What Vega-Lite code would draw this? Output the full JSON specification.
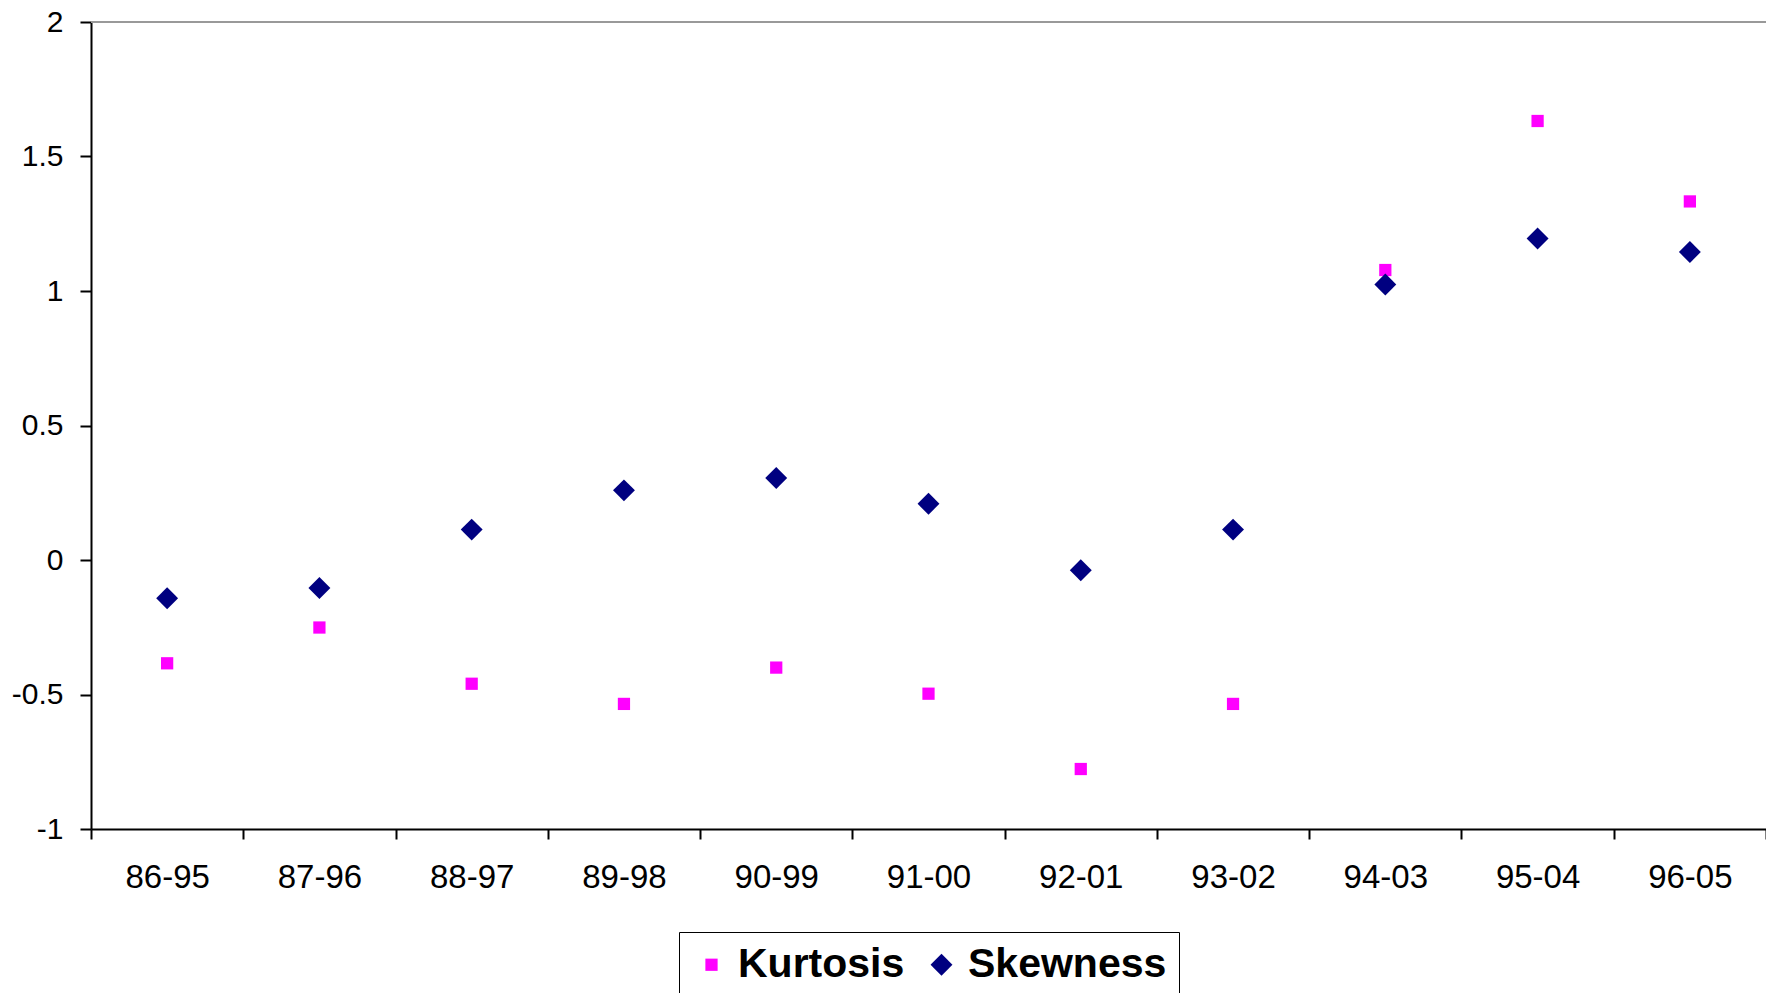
{
  "$schema": "https://vega.github.io/schema/vega-lite/v6.json",
  "width": 1675,
  "height": 807,
  "autosize": {"type": "none"},
  "padding": {"left": 91, "top": 22, "right": 0, "bottom": 164},
  "background": "white",
  "config": {
    "view": {"stroke": null},
    "font": "Liberation Sans"
  },
  "data": {
    "values": [
      {"period": "86-95", "series": "Kurtosis", "value": -0.384},
      {"period": "87-96", "series": "Kurtosis", "value": -0.251},
      {"period": "88-97", "series": "Kurtosis", "value": -0.46},
      {"period": "89-98", "series": "Kurtosis", "value": -0.535},
      {"period": "90-99", "series": "Kurtosis", "value": -0.4},
      {"period": "91-00", "series": "Kurtosis", "value": -0.497},
      {"period": "92-01", "series": "Kurtosis", "value": -0.777},
      {"period": "93-02", "series": "Kurtosis", "value": -0.535},
      {"period": "94-03", "series": "Kurtosis", "value": 1.078},
      {"period": "95-04", "series": "Kurtosis", "value": 1.632},
      {"period": "96-05", "series": "Kurtosis", "value": 1.333},
      {"period": "86-95", "series": "Skewness", "value": -0.142},
      {"period": "87-96", "series": "Skewness", "value": -0.104},
      {"period": "88-97", "series": "Skewness", "value": 0.113},
      {"period": "89-98", "series": "Skewness", "value": 0.259},
      {"period": "90-99", "series": "Skewness", "value": 0.305},
      {"period": "91-00", "series": "Skewness", "value": 0.209},
      {"period": "92-01", "series": "Skewness", "value": -0.038},
      {"period": "93-02", "series": "Skewness", "value": 0.113},
      {"period": "94-03", "series": "Skewness", "value": 1.024},
      {"period": "95-04", "series": "Skewness", "value": 1.195},
      {"period": "96-05", "series": "Skewness", "value": 1.145}
    ]
  },
  "layer": [
    {
      "mark": {"type": "rule", "color": "#999999", "strokeWidth": 2},
      "encoding": {"y": {"datum": 2, "type": "quantitative"}}
    },
    {
      "mark": {"type": "point", "filled": true, "opacity": 1},
      "encoding": {
        "x": {
          "field": "period",
          "type": "nominal",
          "sort": null,
          "scale": {"paddingInner": 0, "paddingOuter": 0},
          "axis": {
            "title": null,
            "labelAngle": 0,
            "labelFontSize": 33,
            "labelColor": "black",
            "labelPadding": 22,
            "tickBand": "extent",
            "tickSize": 10,
            "tickWidth": 2,
            "tickColor": "black",
            "domainColor": "black",
            "domainWidth": 2
          }
        },
        "y": {
          "field": "value",
          "type": "quantitative",
          "scale": {"domain": [-1, 2], "nice": false, "zero": false},
          "axis": {
            "title": null,
            "values": [-1, -0.5, 0, 0.5, 1, 1.5, 2],
            "labelExpr": "datum.value + ''",
            "labelFontSize": 30,
            "labelColor": "black",
            "labelPadding": 17,
            "tickSize": 11,
            "tickWidth": 2,
            "tickColor": "black",
            "domainColor": "black",
            "domainWidth": 2,
            "grid": false
          }
        },
        "color": {
          "field": "series",
          "type": "nominal",
          "scale": {"domain": ["Kurtosis", "Skewness"], "range": ["#FF00FF", "#000080"]},
          "legend": {
            "title": null,
            "orient": "none",
            "legendX": 588,
            "legendY": 910,
            "direction": "horizontal",
            "labelFontSize": 41,
            "labelFontWeight": "bold",
            "labelColor": "black",
            "labelLimit": 500,
            "labelOffset": 6,
            "columnPadding": 16,
            "padding": 12,
            "strokeColor": "black",
            "fillColor": "white"
          }
        },
        "shape": {
          "field": "series",
          "type": "nominal",
          "scale": {"domain": ["Kurtosis", "Skewness"], "range": ["square", "diamond"]}
        },
        "size": {
          "field": "series",
          "type": "nominal",
          "scale": {"domain": ["Kurtosis", "Skewness"], "range": [150, 480]}
        }
      }
    }
  ]
}
